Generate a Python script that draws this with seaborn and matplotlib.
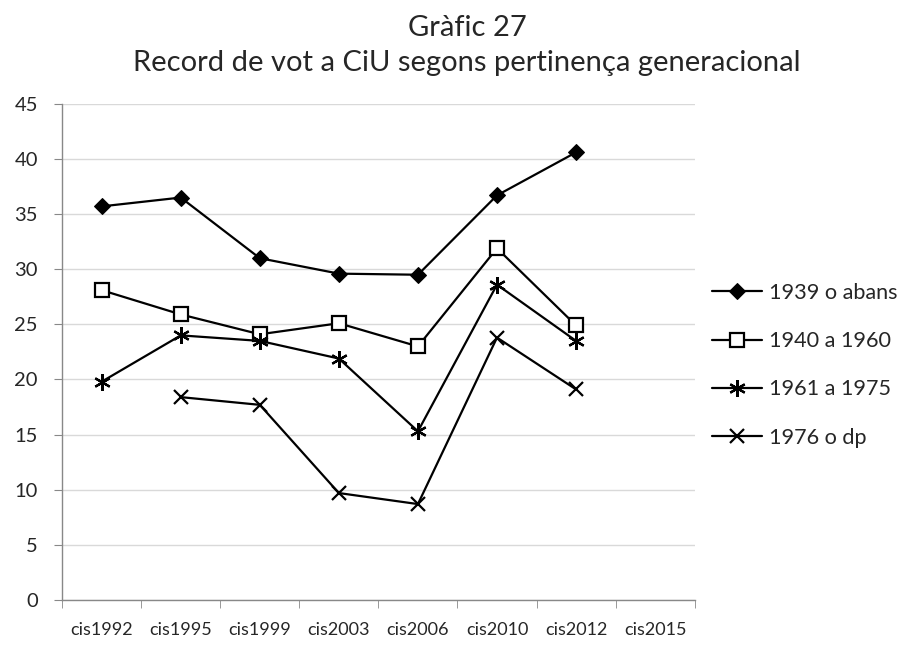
import pandas as pd
import numpy as np
import matplotlib
matplotlib.use('Agg')
import matplotlib.pyplot as plt
import seaborn as sns

# data
surveys = ['cis1992', 'cis1995', 'cis1999', 'cis2003', 'cis2006', 'cis2010', 'cis2012', 'cis2015']
gen_1939 = [35.7, 36.5, 31.0, 29.6, 29.5, 36.7, 40.6, np.nan]
gen_1940 = [28.1, 25.9, 24.1, 25.1, 23.0, 31.9, 24.9, np.nan]
gen_1961 = [19.8, 24.0, 23.5, 21.9, 15.3, 28.6, 23.5, np.nan]
gen_1976 = [np.nan, 18.4, 17.7, 9.7, 8.7, 23.8, 19.1, np.nan]
labels = ['1939 o abans', '1940 a 1960', '1961 a 1975', '1976 o dp']

df = pd.DataFrame({'pos': range(len(surveys))})
for lab, vals in zip(labels, [gen_1939, gen_1940, gen_1961, gen_1976]):
    df[lab] = vals

sns.set_style('white')
plt.rcParams['font.family'] = ['Lato', 'DejaVu Sans']

fig, ax = plt.subplots(figsize=(9.14, 6.49), dpi=100)
fig.subplots_adjust(left=0.068, right=0.760, top=0.840, bottom=0.0755)

styles = {
    '1939 o abans': dict(marker='D', markerfacecolor='black', ms=8.3),
    '1940 a 1960': dict(marker='s', markerfacecolor='white', ms=10, markeredgewidth=1.6),
    '1961 a 1975': dict(marker=(6, 2, 0), ms=12, markeredgewidth=1.6),
    '1976 o dp': dict(marker='x', ms=10, markeredgewidth=1.6),
}
for lab in labels:
    sub = df[['pos', lab]].dropna()
    sns.lineplot(data=sub, x='pos', y=lab, ax=ax, color='black', lw=1.6,
                 markeredgecolor='black', label=lab, **styles[lab])

ax.set_xlim(-0.5, len(surveys) - 0.5)
ax.set_ylim(0, 45)
ax.set_yticks(range(0, 46, 5))
ax.set_xticks(range(len(surveys)))
ax.set_xticklabels(surveys, fontsize=13)
ax.set_xticks(np.arange(-0.5, len(surveys), 1), minor=True)
ax.tick_params(axis='x', which='major', length=0, pad=16)
ax.tick_params(axis='x', which='minor', length=5.5, color='#888888', direction='out', bottom=True)
ax.tick_params(axis='y', length=5.5, color='#888888', direction='out', left=True, labelsize=14.5, pad=12)
ax.set_xlabel('')
ax.set_ylabel('')
ax.grid(axis='y', color='#d9d9d9', lw=1)
ax.set_axisbelow(True)
for s in ['top', 'right']:
    ax.spines[s].set_visible(False)
for s in ['left', 'bottom']:
    ax.spines[s].set_color('#888888')
    ax.spines[s].set_linewidth(1)

# two-line title, placed by baseline
fig.text(0.511, 1 - 36 / 649, 'Gràfic 27', fontsize=21, ha='center', va='baseline')
fig.text(0.511, 1 - 71 / 649, 'Record de vot a CiU segons pertinença generacional',
         fontsize=21, ha='center', va='baseline')

ax.legend(loc='center left', bbox_to_anchor=(1.013, 0.473), frameon=False,
          fontsize=15.6, handlelength=2.35, labelspacing=1.3, handletextpad=0.32,
          borderaxespad=0)

plt.savefig('out.png', dpi=100)
